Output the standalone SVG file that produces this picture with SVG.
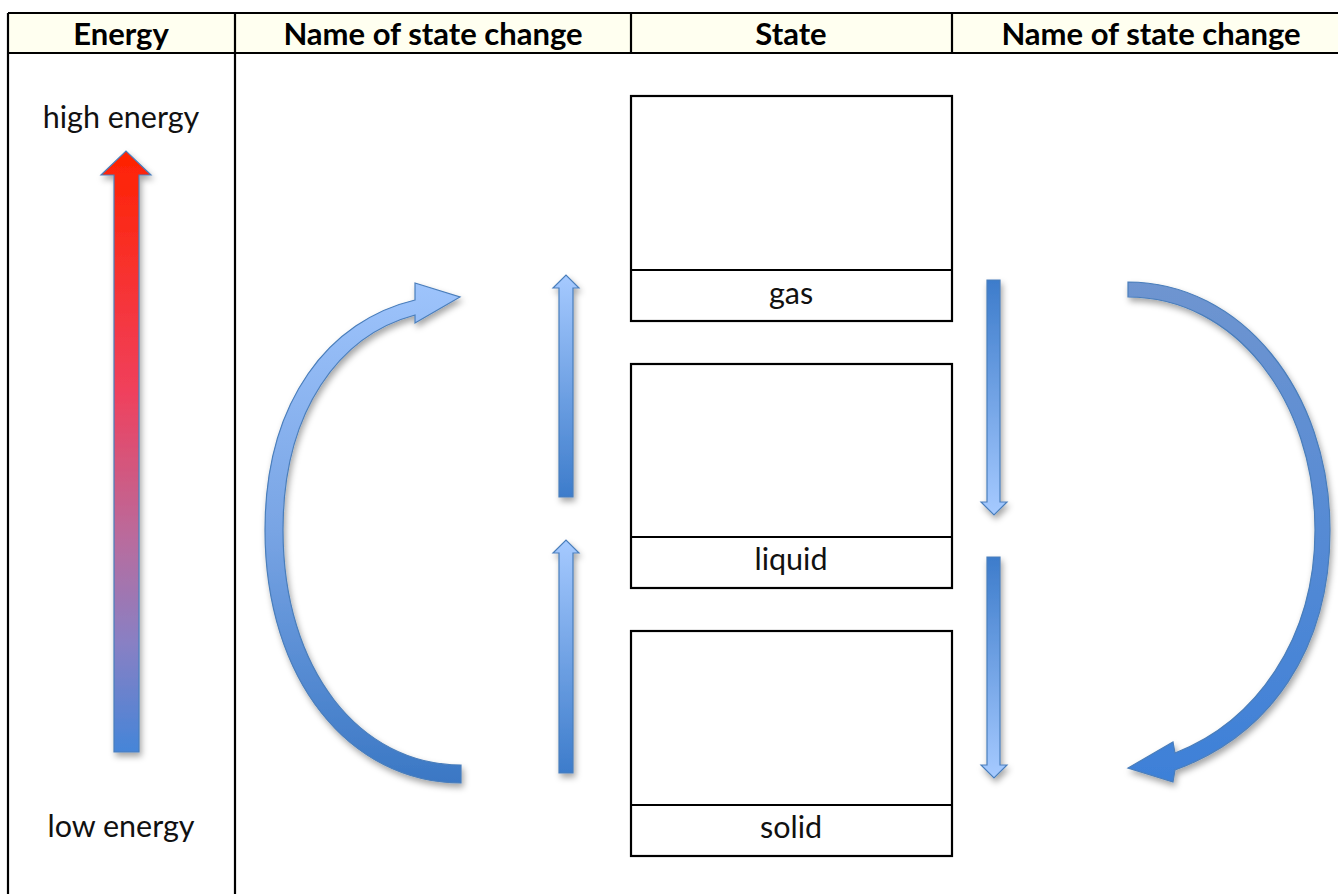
<svg xmlns="http://www.w3.org/2000/svg" width="1338" height="894" viewBox="0 0 1338 894">
<style>
.grid{stroke:#000;stroke-width:2.2;fill:none}
.hd{font-family:Lato,"Liberation Sans",sans-serif;font-weight:bold;font-size:31px;fill:#000;text-anchor:middle}
.tx{font-family:Lato,"Liberation Sans",sans-serif;font-size:30.5px;fill:#111;text-anchor:middle}
.box{fill:#fff;stroke:#000;stroke-width:2.2}
.arr{stroke:#4A7EBB;stroke-width:1.2;stroke-linejoin:miter}
</style>
<defs>
<filter id="sh" x="-30%" y="-10%" width="160%" height="130%">
<feDropShadow dx="2" dy="4" stdDeviation="3" flood-color="#000" flood-opacity="0.35"/>
</filter>
<linearGradient id="gEnergy" gradientUnits="userSpaceOnUse" x1="0" y1="150" x2="0" y2="752">
<stop offset="0" stop-color="#FF2200"/>
<stop offset="0.4" stop-color="#F0405C"/>
<stop offset="0.65" stop-color="#B86C9E"/>
<stop offset="0.82" stop-color="#8880C4"/>
<stop offset="1" stop-color="#4585D8"/>
</linearGradient>
<linearGradient id="gUp" x1="0" y1="0" x2="0" y2="1">
<stop offset="0" stop-color="#A6CAFF"/>
<stop offset="1" stop-color="#3D7CCB"/>
</linearGradient>
<linearGradient id="gDown" x1="0" y1="0" x2="0" y2="1">
<stop offset="0" stop-color="#3D7CCB"/>
<stop offset="1" stop-color="#A6CAFF"/>
</linearGradient>
<linearGradient id="gLeft" gradientUnits="userSpaceOnUse" x1="0" y1="280" x2="0" y2="785">
<stop offset="0" stop-color="#9EC4FC"/>
<stop offset="0.5" stop-color="#78A4E4"/>
<stop offset="1" stop-color="#3A77C4"/>
</linearGradient>
<linearGradient id="gRight" gradientUnits="userSpaceOnUse" x1="0" y1="280" x2="0" y2="785">
<stop offset="0" stop-color="#6F95D0"/>
<stop offset="1" stop-color="#3D80D8"/>
</linearGradient>
</defs>

<g id="table">
<rect x="8" y="13" width="1332" height="40" fill="#FFFFF0"/>
<line class="grid" x1="8" y1="13" x2="1338" y2="13"/>
<line class="grid" x1="8" y1="53" x2="1338" y2="53"/>
<line class="grid" x1="8" y1="13" x2="8" y2="894"/>
<line class="grid" x1="235" y1="13" x2="235" y2="894"/>
<line class="grid" x1="631" y1="13" x2="631" y2="53"/>
<line class="grid" x1="952" y1="13" x2="952" y2="53"/>
<text class="hd" x="121" y="45">Energy</text>
<text class="hd" x="433" y="45">Name of state change</text>
<text class="hd" x="791" y="45">State</text>
<text class="hd" x="1151" y="45">Name of state change</text>
</g>

<g id="energy">
<text class="tx" x="121" y="128">high energy</text>
<text class="tx" x="121" y="837">low energy</text>
<path class="arr" filter="url(#sh)" fill="url(#gEnergy)" d="M114,752 L114,175 L101,175 L126,151 L151,175 L139,175 L139,752 Z"/>
</g>

<g id="gas">
<rect class="box" x="631" y="96" width="321" height="225"/>
<line class="grid" x1="631" y1="270" x2="952" y2="270"/>
<text class="tx" x="791" y="304">gas</text>
</g>
<g id="liquid">
<rect class="box" x="631" y="364" width="321" height="224"/>
<line class="grid" x1="631" y1="537" x2="952" y2="537"/>
<text class="tx" x="791" y="570">liquid</text>
</g>
<g id="solid">
<rect class="box" x="631" y="631" width="321" height="225"/>
<line class="grid" x1="631" y1="805" x2="952" y2="805"/>
<text class="tx" x="791" y="838">solid</text>
</g>

<g id="connectors">
<path class="arr" filter="url(#sh)" fill="url(#gUp)" d="M559,497 L559,288 L553,288 L566,275 L579,288 L573,288 L573,497 Z"/>
<path class="arr" filter="url(#sh)" fill="url(#gUp)" d="M559,773 L559,553 L553,553 L566,540 L579,553 L573,553 L573,773 Z"/>
<path class="arr" filter="url(#sh)" fill="url(#gDown)" d="M987,280 L987,502 L981,502 L994,515 L1007,502 L1000,502 L1000,280 Z"/>
<path class="arr" filter="url(#sh)" fill="url(#gDown)" d="M987,557 L987,765 L981,765 L994,778 L1007,765 L1000,765 L1000,557 Z"/>
<path class="arr" filter="url(#sh)" fill="url(#gLeft)" d="M461,783 C350,783 265,680 265,530 C265,400 330,320 415,300 L415,283 L460,297 L415,323 L415,315 C340,335 283,410 283,530 C283,670 360,765 461,765 Z"/>
<path class="arr" filter="url(#sh)" fill="url(#gRight)" d="M1128,282 C1240,282 1330,390 1330,530 C1330,650 1270,735 1175,770 L1173,782 L1128,768 L1173,742 L1175,753 C1255,722 1315,640 1315,530 C1315,400 1235,297 1128,297 Z"/>
</g>
</svg>
